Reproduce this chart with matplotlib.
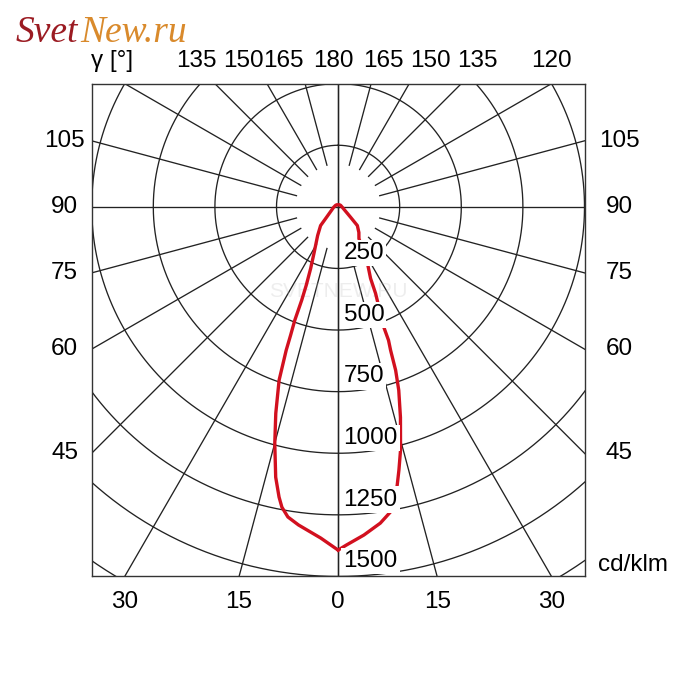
"""Polar luminous intensity diagram (cd/klm) with C0-C180 curve."""
import numpy as np
import matplotlib
matplotlib.use("Agg")
import matplotlib.pyplot as plt

plt.rcParams['font.family'] = ['Liberation Sans', 'DejaVu Sans']

# intensity, gamma in degrees from nadir
gamma_left = [0, 3.0, 7.1, 9.2, 10.6, 11.5, 13.0, 15.0, 16.8, 18.8, 19.9, 20.3,
              20.9, 21.3, 22.1, 24.0, 27.7, 35.5, 43.1, 46.9, 84.9, 120, 150, 180]
I_left = [1393, 1346, 1301, 1275, 1240, 1202, 1126, 993, 875, 743, 619, 556,
          493, 407, 344, 274, 209, 143, 104, 69, 18, 12, 10, 8]
gamma_right = [0, 1.4, 4.5, 7.6, 9.7, 10.9, 12.0, 13.0, 14.4, 16.5, 18.3, 19.4,
               20.1, 20.7, 20.8, 23.4, 24.4, 27.7, 33.3, 39.0, 45.8, 50.2, 84.6,
               120, 150, 180]
I_right = [1393, 1373, 1336, 1295, 1257, 1212, 1154, 1097, 1019, 891, 784, 703,
           620, 579, 523, 383, 319, 255, 154, 134, 109, 66, 17, 12, 10, 8]

rings = [250, 500, 750, 1000, 1250, 1500, 1750]
ring_labels = ['250', '500', '750', '1000', '1250', '1500']
spokes = np.arange(0, 181, 15)
side_ticks = [105, 90, 75, 60, 45]
bottom_ticks = [30, 15, 0, 15, 30]
bottom_signs = [-1, -1, 1, 1, 1]
top_ticks = ['135', '150', '165', '180', '165', '150', '135', '120']
top_x = [-577, -386, -221, -18, 184, 375, 565, 866]

fig = plt.figure(figsize=(7, 7), dpi=100)
ax = fig.add_axes([0.131, 0.176, 0.704, 0.705])
ax.set_xlim(-1000, 1000); ax.set_ylim(-1500, 500)
ax.set_aspect('equal'); ax.set_xticks([]); ax.set_yticks([])
for s in ax.spines.values():
    s.set_linewidth(1.0); s.set_color('#333333')

gc = dict(color='#222222', lw=0.95, zorder=1)
t = np.linspace(0, 2*np.pi, 721)
for r in rings:
    ax.plot(r*np.sin(t), r*np.cos(t), **gc)
for g in spokes:
    r0 = 0 if g in (0, 90, 180) else 175
    rr = np.array([r0, 2000])
    a = np.radians(g)
    for sgn in (-1, 1):
        ax.plot(sgn*rr*np.sin(a), -rr*np.cos(a), **gc)

# curve
gl, gr = np.radians(gamma_left), np.radians(gamma_right)
xl, yl = -np.array(I_left)*np.sin(gl), -np.array(I_left)*np.cos(gl)
xr, yr = np.array(I_right)*np.sin(gr), -np.array(I_right)*np.cos(gr)
x = np.concatenate([xl, xr[::-1]]); y = np.concatenate([yl, yr[::-1]])
ax.plot(x, y, color='#d2101f', lw=2.4, zorder=3, solid_joinstyle='round')

fs = 17.5
for r, lab in zip(rings, ring_labels):
    ax.text(22, -(r - 62), lab, fontsize=fs, ha='left', va='center', zorder=4,
            bbox=dict(facecolor='white', edgecolor='none', pad=1.5))

for g in side_ticks:
    yy = -1000/np.tan(np.radians(g))
    ax.text(-1110, yy, str(g), fontsize=fs, ha='center', va='center', clip_on=False)
    ax.text(1140, yy, str(g), fontsize=fs, ha='center', va='center', clip_on=False)
for g, sgn in zip(bottom_ticks, bottom_signs):
    ax.text(sgn*1500*np.tan(np.radians(g)), -1603, str(g), fontsize=fs,
            ha='center', va='center', clip_on=False)
for lab, xx in zip(top_ticks, top_x):
    ax.text(xx, 593, lab, fontsize=fs, ha='center', va='center', clip_on=False)
ax.text(-1003, 593, 'γ [°]', fontsize=fs, ha='left', va='center', clip_on=False)
ax.text(1056, -1453, 'cd/klm', fontsize=fs, ha='left', va='center', clip_on=False)

# faint watermark and logo
ax.text(0, -345, 'SVETNEW.RU', fontsize=15, color='#bbbbbb', alpha=0.25,
        ha='center', va='center', zorder=2)
logo = dict(fontsize=27, style='italic', family='Liberation Serif', va='center')
t1 = fig.text(0.022, 0.953, 'Svet', color='#9b1b22', **logo)
fig.canvas.draw()
bb = t1.get_window_extent().transformed(fig.transFigure.inverted())
fig.text(bb.x1 + 0.004, 0.953, 'New.ru', color='#d98a2c', **logo)

fig.savefig('out.png', dpi=100)
